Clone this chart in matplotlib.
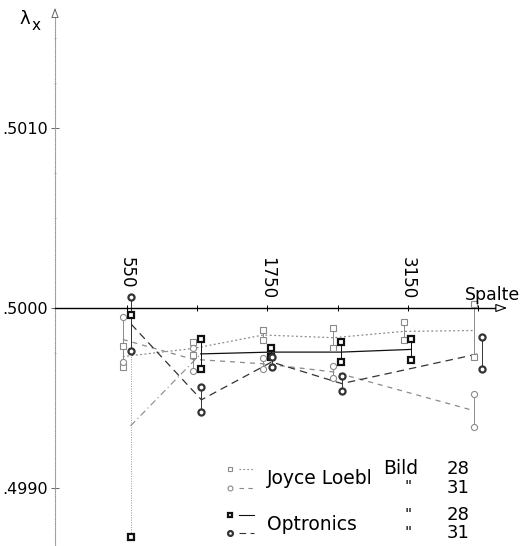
import numpy as np
import matplotlib
matplotlib.use("Agg")
import matplotlib.pyplot as plt
import matplotlib.transforms as mtransforms
from matplotlib.ticker import FixedLocator

# Spalte (column) positions along the axis
spalten = ["550", "", "1750", "", "3150", ""]

# each series: two measurements (upper, lower) per column, nan = not measured
jl28_a = [0.49979, 0.49981, 0.49988, 0.49989, 0.49992, 0.50002]
jl28_b = [0.49967, 0.49974, 0.49982, 0.49978, 0.49982, 0.49973]
jl31_a = [0.49995, 0.49978, 0.49972, 0.49968, np.nan, 0.49952]
jl31_b = [0.49970, 0.49965, 0.49966, 0.49961, np.nan, 0.49934]
opt28_a = [0.49996, 0.49983, 0.49978, 0.49981, 0.49983, np.nan]
opt28_b = [0.49873, 0.49966, 0.49973, 0.49970, 0.49971, np.nan]
opt31_a = [0.50006, 0.49956, 0.49973, 0.49962, np.nan, 0.49984]
opt31_b = [0.49976, 0.49942, 0.49967, 0.49954, np.nan, 0.49966]

W, H = 531, 546
fig = plt.figure(figsize=(W / 100, H / 100), dpi=100)
ax = fig.add_axes([55 / W, 0, 1 - 55 / W, 1])

# pixel -> data helpers (only for layout of axes, arrows and legend)
px_per_col = 70.2
def xd(px):
    return (px - 127) / px_per_col
def yd(py):
    return 0.5 + (308 - py) / 180000.0

ax.set_xlim(xd(55), xd(W))
ax.set_ylim(yd(H), yd(0))
x = np.arange(len(spalten))

series = [
    (jl28_a, jl28_b, dict(color="#8a8a8a", ls=(0, (1.5, 2)), marker="s", mew=0.8, dx=-0.06)),
    (jl31_a, jl31_b, dict(color="#8a8a8a", ls=(0, (4, 4)), marker="o", mew=0.8, dx=-0.06)),
    (opt28_a, opt28_b, dict(color="#111111", ls="-", marker="s", mew=1.6, dx=0.05)),
    (opt31_a, opt31_b, dict(color="#333333", ls=(0, (6, 4)), marker="o", mew=1.6, dx=0.06)),
]

for a, b, st in series:
    a = np.array(a)
    b = np.array(b)
    mid = (a + b) / 2
    ok = ~np.isnan(mid)
    xs = x[ok] + st["dx"]
    if st["ls"] == "-":
        # first segment of Optronics 28 is drawn dash-dotted in the original
        ax.plot(xs[:2], mid[ok][:2], color="#888888", lw=0.8, ls=(0, (6, 3, 1, 3)))
        ax.plot(xs[1:], mid[ok][1:], color=st["color"], lw=0.9, ls="-")
    else:
        ax.plot(xs, mid[ok], color=st["color"], lw=0.9, ls=st["ls"])
    for xi, ai, bi in zip(xs, a[ok], b[ok]):
        vls = (0, (1, 1.5)) if abs(ai - bi) > 0.0005 else "-"
        vcol = "#999999" if abs(ai - bi) > 0.0005 else st["color"]
        ax.plot([xi, xi], [ai, bi], color=vcol, lw=0.7, ls=vls)
    ms = 4.2 if st["marker"] == "s" else 4.4
    ax.plot(xs, a[ok], ls="none", marker=st["marker"], ms=ms, mfc="white",
            mec=st["color"], mew=st["mew"], zorder=5)
    ax.plot(xs, b[ok], ls="none", marker=st["marker"], ms=ms, mfc="white",
            mec=st["color"], mew=st["mew"], zorder=5)

# axes
for s in ["right", "bottom"]:
    ax.spines[s].set_visible(False)
ax.spines["left"].set_linestyle((0, (1, 1.2)))
ax.spines["left"].set_color("#9a9a9a")
ax.spines["left"].set_linewidth(0.8)
ax.spines["left"].set_bounds(yd(H), yd(16))
ax.spines["top"].set_position(("data", 0.5))
ax.spines["top"].set_bounds(xd(55), xd(497))
ax.spines["top"].set_linewidth(1.0)

ax.xaxis.tick_top()
ax.set_xticks(x)
ax.set_xticklabels(spalten, rotation=270, fontsize=12)
ax.tick_params(axis="x", direction="inout", length=5, width=0.7, pad=4)
# the 550 label sits a little higher, above the point
lab550 = ax.get_xticklabels()[0]
lab550.set_transform(lab550.get_transform() +
                     mtransforms.ScaledTranslation(0, 10 / 100, fig.dpi_scale_trans))

ax.set_yticks([0.4990, 0.5000, 0.5010])
ax.set_yticklabels([".4990", ".5000", ".5010"], fontsize=11.5)
ax.yaxis.set_minor_locator(FixedLocator([0.49975, 0.5005, 0.50075, 0.50125, 0.5015]))
ax.tick_params(axis="y", which="major", direction="inout", length=6, width=0.7,
               pad=2, color="#666666")
ax.tick_params(axis="y", which="minor", direction="inout", length=2, width=0.6,
               color="#aaaaaa")

# arrow heads
ax.annotate("", xy=(xd(510), 0.5), xytext=(xd(496), 0.5),
            arrowprops=dict(arrowstyle="-|>,head_length=0.7,head_width=0.25",
                            fc="white", ec="black", lw=0.8), annotation_clip=False)
ax.annotate("", xy=(xd(55), yd(5)), xytext=(xd(55), yd(18)),
            arrowprops=dict(arrowstyle="-|>,head_length=0.6,head_width=0.22",
                            fc="white", ec="#666666", lw=0.7), annotation_clip=False)

fig.text(493 / W, 1 - 295 / H, "Spalte", fontsize=12.5, ha="center", va="center")
fig.text(25 / W, 1 - 19 / H, "\u03bb", fontsize=13, ha="center", va="center")
fig.text(36 / W, 1 - 25 / H, "x", fontsize=11, ha="center", va="center")

# legend drawn by hand (layout of the original is not a regular legend)
leg_rows = [469, 488, 515, 533]
for py, (a, b, st) in zip(leg_rows, series):
    fy = 1 - py / H
    ax.plot([239 / W, 254 / W], [fy, fy], transform=fig.transFigure, clip_on=False,
            color=st["color"], lw=0.8, ls=st["ls"])
    ax.plot([230 / W], [fy], transform=fig.transFigure, clip_on=False, ls="none",
            marker=st["marker"], ms=3.5, mfc="white", mec=st["color"], mew=st["mew"])

fig.text(267 / W, 1 - 478 / H, "Joyce Loebl", fontsize=13.5, va="center")
fig.text(267 / W, 1 - 524 / H, "Optronics", fontsize=13.5, va="center")
fig.text(383 / W, 1 - 469 / H, "Bild", fontsize=13.5, va="center")
for py in leg_rows[1:]:
    fig.text(408 / W, 1 - py / H, '"', fontsize=11, ha="center", va="center")
for py, lab in zip(leg_rows, ["28", "31", "28", "31"]):
    fig.text(447 / W, 1 - py / H, lab, fontsize=13, va="center")

fig.savefig("out.png", dpi=100)
